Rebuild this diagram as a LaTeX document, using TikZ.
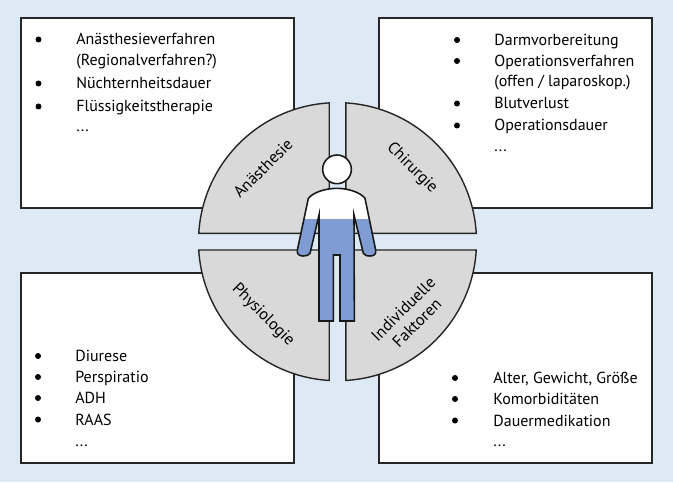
\documentclass[tikz,border=0pt]{standalone}
\usepackage{fontspec}
\setmainfont{PT Sans}
\definecolor{bgblue}{HTML}{DDE9F4}
\definecolor{partgray}{HTML}{D9D9D9}
\definecolor{waterblue}{HTML}{7F9CD3}
\tikzset{
	infobox/.style={draw=black!85,fill=white,line width=.9pt},
	partline/.style={draw=black!85,fill=partgray,line width=.8pt},
	personline/.style={draw=black!90,line width=.9pt},
	itemtext/.style={anchor=base west,inner sep=0pt,font=\fontsize{9.1}{9}\selectfont},
	itemdot/.style={circle,fill=black,inner sep=0pt,minimum size=.12cm},
	parttext/.style={align=center,inner sep=0pt,font=\fontsize{9.3}{11}\selectfont}
}
\newcommand{\moreitems}{...}
\newcommand{\personpath}{(6.74,5.873) .. controls (6.95,5.873) and (7.2,5.8) .. (7.30,5.673) -- (7.513,4.64) .. controls (7.53,4.55) and (7.47,4.52) .. (7.40,4.52) .. controls (7.33,4.52) and (7.29,4.54) .. (7.267,4.573) -- (7.08,5.34) -- (7.087,3.22) -- (6.80,3.22) -- (6.80,4.54) -- (6.667,4.54) -- (6.667,3.22) -- (6.38,3.22) -- (6.38,5.34) -- (6.20,4.573) .. controls (6.18,4.54) and (6.13,4.52) .. (6.067,4.52) .. controls (6.0,4.52) and (5.93,4.55) .. (5.947,4.64) -- (6.167,5.673) .. controls (6.27,5.8) and (6.52,5.873) .. (6.74,5.873) -- cycle}
\begin{document}
\begin{tikzpicture}
	\useasboundingbox[fill=bgblue] (0,0) rectangle (13.46,9.64);
	%Frames of the four lists
	\draw[infobox] (.42,5.48) rectangle (5.88,9.28);
	\draw[infobox] (7.58,5.48) rectangle (13.04,9.28);
	\draw[infobox] (.42,.38) rectangle (5.88,4.18);
	\draw[infobox] (7.58,.38) rectangle (13.04,4.18);
	%Four parts of the disc
	\draw[partline] (6.584,4.973) -- (3.975,4.973) arc[start angle=176.58,end angle=93.42,radius=2.78cm] -- cycle;
	\draw[partline] (6.916,4.973) -- (9.525,4.973) arc[start angle=3.42,end angle=86.58,radius=2.78cm] -- cycle;
	\draw[partline] (6.584,4.64) -- (3.975,4.64) arc[start angle=183.42,end angle=266.58,radius=2.78cm] -- cycle;
	\draw[partline] (6.916,4.64) -- (9.525,4.64) arc[start angle=-3.42,end angle=-86.58,radius=2.78cm] -- cycle;
	\node[parttext,rotate=45] (anaesthesie) at (5.26,6.28) {Anästhesie};
	\node[parttext,rotate=-45] (chirurgie) at (8.24,6.28) {Chirurgie};
	\node[parttext,rotate=-45] (physiologie) at (5.26,3.34) {Physiologie};
	\node[parttext,rotate=45] (faktoren) at (8.2,3.32) {Individuelle\\Faktoren};
	%Person
	\fill[white] \personpath;
	\begin{scope}
		\clip (5,3) rectangle (8.5,5.253);
		\fill[waterblue] \personpath;
	\end{scope}
	\draw[personline] \personpath;
	\node[personline,circle,fill=white,inner sep=0pt,minimum size=.574cm] (head) at (6.74,6.253) {};
	%Lists
	\foreach \name/\xpos/\ypos/\txt in {
		a1/1.52/8.74/Anästhesieverfahren,
		a2/1.52/8.33/(Regionalverfahren?),
		a3/1.52/7.86/Nüchternheitsdauer,
		a4/1.52/7.41/Flüssigkeitstherapie,
		a5/1.52/7.0/\moreitems,
		c1/9.88/8.72/Darmvorbereitung,
		c2/9.88/8.31/Operationsverfahren,
		c3/9.88/7.91/{(offen / laparoskop.)},
		c4/9.88/7.46/Blutverlust,
		c5/9.88/7.02/Operationsdauer,
		c6/9.88/6.6/\moreitems,
		p1/1.5/2.41/Diurese,
		p2/1.5/1.99/Perspiratio,
		p3/1.5/1.57/ADH,
		p4/1.5/1.14/RAAS,
		p5/1.5/.72/\moreitems,
		f1/9.86/1.97/{Alter, Gewicht, Größe},
		f2/9.86/1.55/Komorbiditäten,
		f3/9.86/1.12/Dauermedikation,
		f4/9.86/.72/\moreitems}
		\node[itemtext] (\name) at (\xpos,\ypos) {\txt};
	\foreach \name/\xpos/\ypos in {
		da1/.77/8.85,da2/.77/7.97,da3/.77/7.51,
		dc1/9.14/8.84,dc2/9.14/8.42,dc3/9.14/7.57,dc4/9.14/7.13,
		dp1/.76/2.52,dp2/.76/2.1,dp3/.76/1.68,dp4/.76/1.25,
		df1/9.1/2.08,df2/9.1/1.66,df3/9.1/1.23}
		\node[itemdot] (\name) at (\xpos,\ypos) {};
\end{tikzpicture}
\end{document}
